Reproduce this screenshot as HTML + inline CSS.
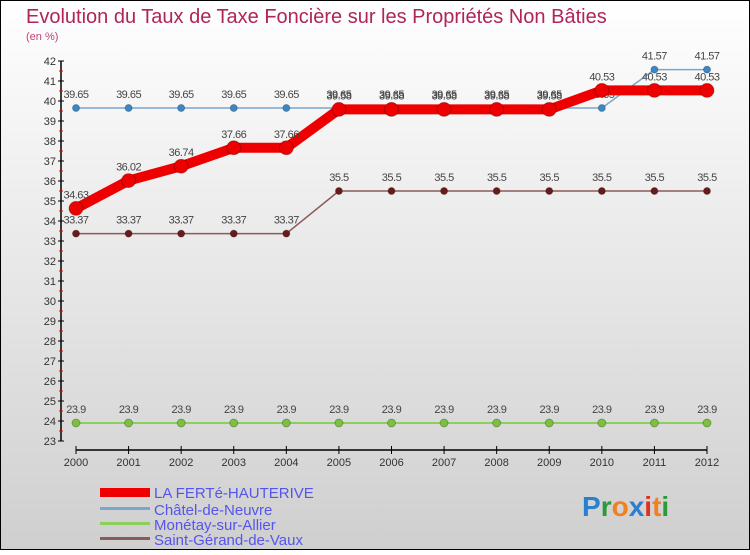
<!DOCTYPE html>
<html><head><meta charset="utf-8"><style>
body{margin:0}
#c{width:750px;height:550px;position:relative;font-family:"Liberation Sans",sans-serif}
</style></head><body>
<div id="c">
<svg id="s" width="750" height="550" xmlns="http://www.w3.org/2000/svg">
<defs><linearGradient id="bg" x1="0" y1="0" x2="0" y2="1"><stop offset="0" stop-color="#ffffff"/><stop offset="1" stop-color="#cfcfcf"/></linearGradient></defs>
<rect x="0.5" y="0.5" width="749" height="549" fill="url(#bg)" stroke="#000"/>
<text x="26" y="23" font-size="20" fill="#b0245a">Evolution du Taux de Taxe Foncière sur les Propriétés Non Bâties</text>
<text x="26" y="40" font-size="11" fill="#c0407a">(en %)</text>
<g id="axes"></g><g id="series"></g>
<g>
<rect x="100" y="488" width="50" height="9" fill="#e00"/>
<text x="154" y="498" font-size="15" fill="#5555ee">LA FERTé-HAUTERIVE</text>
<rect x="100" y="507" width="50" height="3" fill="#7aa6cc"/>
<text x="154" y="515" font-size="15" fill="#5555ee">Châtel-de-Neuvre</text>
<rect x="100" y="522" width="50" height="3" fill="#8cd05c"/>
<text x="154" y="530" font-size="15" fill="#5555ee">Monétay-sur-Allier</text>
<rect x="100" y="537" width="50" height="3" fill="#8a5a5a"/>
<text x="154" y="545" font-size="15" fill="#5555ee">Saint-Gérand-de-Vaux</text>
</g>
<text x="582" y="516" font-size="28" font-weight="bold"><tspan fill="#2a7fd0">P</tspan><tspan fill="#2a9a3a">r</tspan><tspan fill="#f08020">o</tspan><tspan fill="#2a7fd0">x</tspan><tspan fill="#e03020">i</tspan><tspan fill="#f08020">t</tspan><tspan fill="#2a9a3a">i</tspan></text>
</svg></div>
<script>
const years=[2000,2001,2002,2003,2004,2005,2006,2007,2008,2009,2010,2011,2012];
const laFerte=[34.63,36.02,36.74,37.66,37.66,39.58,39.58,39.58,39.58,39.58,40.53,40.53,40.53];
const chatel=[39.65,39.65,39.65,39.65,39.65,39.65,39.65,39.65,39.65,39.65,39.65,41.57,41.57];
const monetay=[23.9,23.9,23.9,23.9,23.9,23.9,23.9,23.9,23.9,23.9,23.9,23.9,23.9];
const saintGerand=[33.37,33.37,33.37,33.37,33.37,35.5,35.5,35.5,35.5,35.5,35.5,35.5,35.5];
const yTicks=[23,24,25,26,27,28,29,30,31,32,33,34,35,36,37,38,39,40,41,42];
const NS="http://www.w3.org/2000/svg";
function X(i){return 76+i*(707-76)/(years.length-1);}
function Y(v){return 441-(v-23)*20;}
function mk(t,a,p){const e=document.createElementNS(NS,t);for(const k in a)e.setAttribute(k,a[k]);p.appendChild(e);return e;}
const ax=document.getElementById('axes');
const yl=mk('line',{x1:61,y1:Y(42),x2:61,y2:Y(23),stroke:'#000','stroke-width':1.5},ax);


yTicks.forEach(v=>{
 mk('line',{x1:58,y1:Y(v),x2:64,y2:Y(v),stroke:'#000'},ax);
 if(v<42)mk('line',{x1:59,y1:Y(v+0.5),x2:63,y2:Y(v+0.5),stroke:'#e00'},ax);
 const t=mk('text',{x:56,y:Y(v)+4,'font-size':11,fill:'#333','text-anchor':'end'},ax);t.textContent=v;
 
 
});
const xl=mk('line',{x1:X(0),y1:450,x2:X(12),y2:450,stroke:'#000','stroke-width':1.5},ax);


years.forEach((y,i)=>{
 mk('line',{x1:X(i),y1:446,x2:X(i),y2:454,stroke:'#000'},ax);
 const t=mk('text',{x:X(i),y:466,'font-size':11,fill:'#333','text-anchor':'middle'},ax);t.textContent=y;
 
 
});
const sg=document.getElementById('series');
function draw(vals,color,w,r,name,dot){
 const g=mk('g',{},sg);
 
 
 mk('polyline',{points:vals.map((v,i)=>X(i)+','+Y(v)).join(' '),fill:'none',stroke:color,'stroke-width':w,'stroke-linejoin':'round'},g);
 vals.forEach((v,i)=>{
  const c=mk('circle',{cx:X(i),cy:Y(v),r:r,fill:dot,stroke:'rgba(0,0,0,0.25)'},g);
  
  
  const t=mk('text',{x:X(i),y:Y(v)-10,'font-size':11,fill:'#444','text-anchor':'middle','letter-spacing':'-0.5'},g);t.textContent=v;
 });
}
draw(monetay,'#8cd05c',2,4,'series-monetay','#7cc040');
draw(saintGerand,'#8a5a5a',1.5,3.5,'series-saint-gerand','#6a1a1a');
draw(chatel,'#7aa6cc',1.5,3.5,'series-chatel','#3a88c8');
draw(laFerte,'#ee0000',10,7,'series-la-ferte','#ee0000');
</script>
</body></html>
